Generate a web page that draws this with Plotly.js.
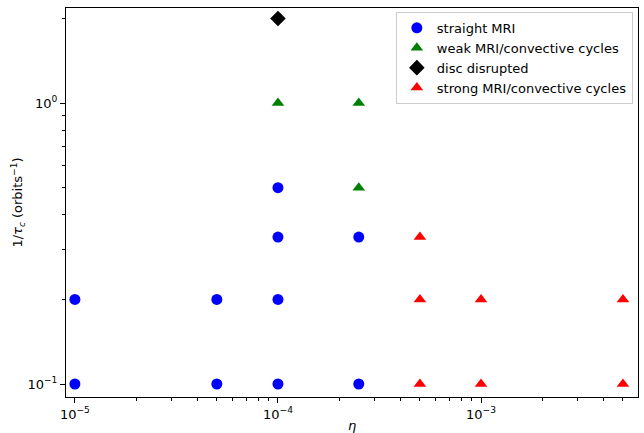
<!DOCTYPE html>
<html><head><meta charset="utf-8">
<script src="https://cdn.plot.ly/plotly-3.0.1.min.js"></script>
<style>html,body{margin:0;padding:0;background:#fff}</style>
</head><body>
<div id="chart" style="width:644px;height:433px"></div>
<script>
const straightX = [1e-5, 1e-5, 5e-5, 5e-5, 1e-4, 1e-4, 1e-4, 1e-4, 2.5e-4, 2.5e-4];
const straightY = [0.2, 0.1, 0.2, 0.1, 0.5, 1/3, 0.2, 0.1, 1/3, 0.1];
const weakX = [1e-4, 2.5e-4, 2.5e-4];
const weakY = [1, 1, 0.5];
const disruptX = [1e-4];
const disruptY = [2];
const strongX = [5e-4, 5e-4, 5e-4, 1e-3, 1e-3, 5e-3, 5e-3];
const strongY = [1/3, 0.2, 0.1, 0.2, 0.1, 0.2, 0.1];
const xTickVals = [1e-5, 1e-4, 1e-3];
const xTickText = ['10<sup>−5</sup>', '10<sup>−4</sup>', '10<sup>−3</sup>'];
const yTickVals = [0.1, 1];
const yTickText = ['10<sup>−1</sup>', '10<sup>0</sup>'];
const xMinor = [2e-5,3e-5,4e-5,5e-5,6e-5,7e-5,8e-5,9e-5,2e-4,3e-4,4e-4,5e-4,6e-4,7e-4,8e-4,9e-4,2e-3,3e-3,4e-3,5e-3];
const yMinor = [0.2,0.3,0.4,0.5,0.6,0.7,0.8,0.9,2];

const xRange = [Math.log10(9.04e-6), Math.log10(5.93e-3)];
const yRange = [Math.log10(0.0899), Math.log10(2.18)];

const traces = [
  {x: straightX, y: straightY, name: 'straight MRI', mode: 'markers', type: 'scatter',
   marker: {symbol: 'circle', color: '#0000ff', size: 11}},
  {x: weakX, y: weakY, name: 'weak MRI/convective cycles', mode: 'markers', type: 'scatter',
   marker: {symbol: 'triangle-up', color: '#008000', size: 11}},
  {x: disruptX, y: disruptY, name: 'disc disrupted', mode: 'markers', type: 'scatter',
   marker: {symbol: 'diamond', color: '#000000', size: 12}},
  {x: strongX, y: strongY, name: 'strong MRI/convective cycles', mode: 'markers', type: 'scatter',
   marker: {symbol: 'triangle-up', color: '#ff0000', size: 11}},
  {x: disruptX, y: disruptY, xaxis: 'x2', yaxis: 'y2', mode: 'markers', type: 'scatter',
   showlegend: false, hoverinfo: 'skip', marker: {opacity: 0}}
];
const axisCommon = {
  type: 'log', showgrid: false, zeroline: false, showline: true, mirror: true,
  linecolor: '#000', linewidth: 1, ticks: 'outside', ticklen: 5, tickcolor: '#000',
  tickfont: {family: 'DejaVu Sans', size: 13, color: '#000'}, tickmode: 'array'
};
const minorCommon = {
  type: 'log', showgrid: false, zeroline: false, showline: false,
  ticks: 'outside', ticklen: 3, tickcolor: '#000', tickmode: 'array', showticklabels: false
};
const layout = {
  width: 644, height: 433,
  margin: {l: 66, r: 6, t: 8, b: 36},
  paper_bgcolor: '#fff', plot_bgcolor: '#fff',
  font: {family: 'DejaVu Sans', size: 13, color: '#000'},
  showlegend: true,
  legend: {x: 0.991, y: 0.99, xanchor: 'right', yanchor: 'top', bgcolor: 'rgba(255,255,255,0.8)',
           bordercolor: '#cccccc', borderwidth: 1, font: {family: 'DejaVu Sans', size: 13}, tracegroupgap: 0},
  xaxis: Object.assign({}, axisCommon, {
    range: xRange, tickvals: xTickVals, ticktext: xTickText,
    title: {text: '<i>η</i>', font: {family: 'DejaVu Sans', size: 13}, standoff: 0}
  }),
  yaxis: Object.assign({}, axisCommon, {
    range: yRange, tickvals: yTickVals, ticktext: yTickText,
    title: {text: '1/<i>τ</i><sub><i>c</i></sub> (orbits<sup>−1</sup>)', font: {family: 'DejaVu Sans', size: 13}, standoff: 1}
  }),
  xaxis2: Object.assign({}, minorCommon, {range: xRange, tickvals: xMinor, overlaying: 'x', anchor: 'y', side: 'bottom'}),
  yaxis2: Object.assign({}, minorCommon, {range: yRange, tickvals: yMinor, overlaying: 'y', anchor: 'x', side: 'left'})
};
Plotly.newPlot('chart', traces, layout, {displayModeBar: false});
</script>
</body></html>
